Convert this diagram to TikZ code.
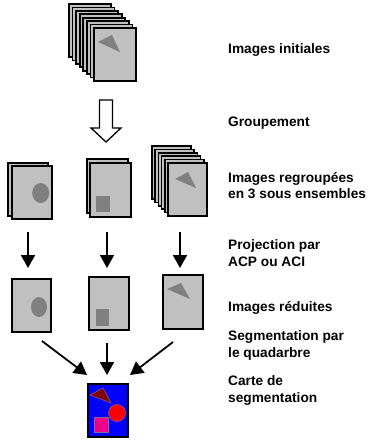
\documentclass[tikz,border=0pt]{standalone}
\usepackage{fontspec}
\setmainfont{Liberation Sans}
\usetikzlibrary{arrows.meta,calc}
\definecolor{cardgray}{HTML}{C0C0C0}
\definecolor{shapegray}{HTML}{808080}
\definecolor{darkred}{HTML}{800000}
\definecolor{outlinegray}{HTML}{8A6A8A}
\begin{document}
\begin{tikzpicture}[x=1pt,y=-1pt,
  card/.style={draw=black,line width=1.6pt,fill=cardgray,inner sep=0pt,outer sep=0pt,
    anchor=north west,minimum width=40pt,minimum height=53pt},
  arr/.style={line width=1.8pt,-{Triangle[width=14pt,length=13pt]}},
  lbl/.style={anchor=base west,inner sep=0pt,align=left,
    font=\fontsize{13.7}{16.5}\selectfont\bfseries}]
\useasboundingbox (0,0) rectangle (367,443);

% --- initial stack ---
\foreach \i in {0,...,7}
  \node[card,minimum width=42pt] (T\i) at ({69+3.57*\i},{4+3.43*\i}) {};
\fill[shapegray] (98,42) -- (112,35) -- (120,52) -- cycle;

% --- hollow arrow ---
\draw[line width=1.3pt,fill=white,line join=miter]
  (99.5,100) -- (112.5,100) -- (112.5,128) -- (121,128) -- (106,142)
  -- (91,128) -- (99.5,128) -- cycle;

% --- row 2: grouped images ---
\node[card] (L2b) at (8,163) {};
\node[card] (L2) at (12,166) {};
\fill[shapegray] (40.7,193) ellipse [x radius=8.5, y radius=10];

\node[card,minimum width=41pt,minimum height=54pt] (M2b) at (87,159) {};
\node[card,minimum width=41pt,minimum height=54pt] (M2) at (90,163) {};
\fill[shapegray] (96,196) rectangle (110,212);

\foreach \i in {0,...,5}
  \node[card,minimum width=39pt] (R2\i) at ({152+3.2*\i},{146+3.4*\i}) {};
\fill[shapegray] (175,179) -- (188,172) -- (196,188) -- cycle;

% --- row 3: reduced images ---
\node[card,minimum width=39pt] (L3) at (12,279) {};
\fill[shapegray] (39,307) ellipse [x radius=8, y radius=10];
\node[card] (M3) at (89,277) {};
\fill[shapegray] (96,309) rectangle (109,326);
\node[card,minimum height=54pt] (R3) at (163,275) {};
\fill[shapegray] (167,289) -- (181,283) -- (190,299) -- cycle;

% --- segmentation map ---
\node[card,fill=blue] (B) at (88,384) {};
\filldraw[fill=darkred,draw=outlinegray,line width=0.5pt] (90,395) -- (103,388) -- (111,403) -- cycle;
\filldraw[fill=red,draw=outlinegray,line width=0.5pt] (117,413) circle [radius=8.5];
\filldraw[fill=magenta,draw=outlinegray,line width=0.5pt] (94,417) rectangle (108,432);

% --- arrows ---
\draw[arr] ([xshift=-4pt,yshift=-13pt]L2.south) -- ([xshift=-3.5pt,yshift=11pt]L3.north);
\draw[arr] ([xshift=-3.5pt,yshift=-15pt]M2.south) -- ([xshift=-2pt,yshift=9pt]M3.north);
\draw[arr] ([xshift=-7.5pt,yshift=-16pt]R25.south) -- ([xshift=-3pt,yshift=7pt]R3.north);
\draw[arr] ([xshift=10.5pt,yshift=-9pt]L3.south) -- ([xshift=-21pt,yshift=9pt]B.north);
\draw[arr] ([xshift=-2pt,yshift=-13pt]M3.south) -- ([xshift=-1pt,yshift=9pt]B.north);
\draw[arr] ([xshift=-10pt,yshift=-13pt]R3.south) -- ([xshift=22pt,yshift=9pt]B.north);

% --- labels (base anchor = baseline of last line) ---
\node[lbl] (t1) at (228,54) {Images initiales};
\node[lbl] (t2) at (228,127) {Groupement};
\node[lbl] (t3) at (228,199) {Images regroupées\\en 3 sous ensembles};
\node[lbl] (t4) at (228,266) {Projection par\\ACP ou ACI};
\node[lbl] (t5) at (228,311) {Images réduites};
\node[lbl] (t6) at (228,357) {Segmentation par\\le quadarbre};
\node[lbl] (t7) at (228,402) {Carte de\\segmentation};
\end{tikzpicture}
\end{document}
